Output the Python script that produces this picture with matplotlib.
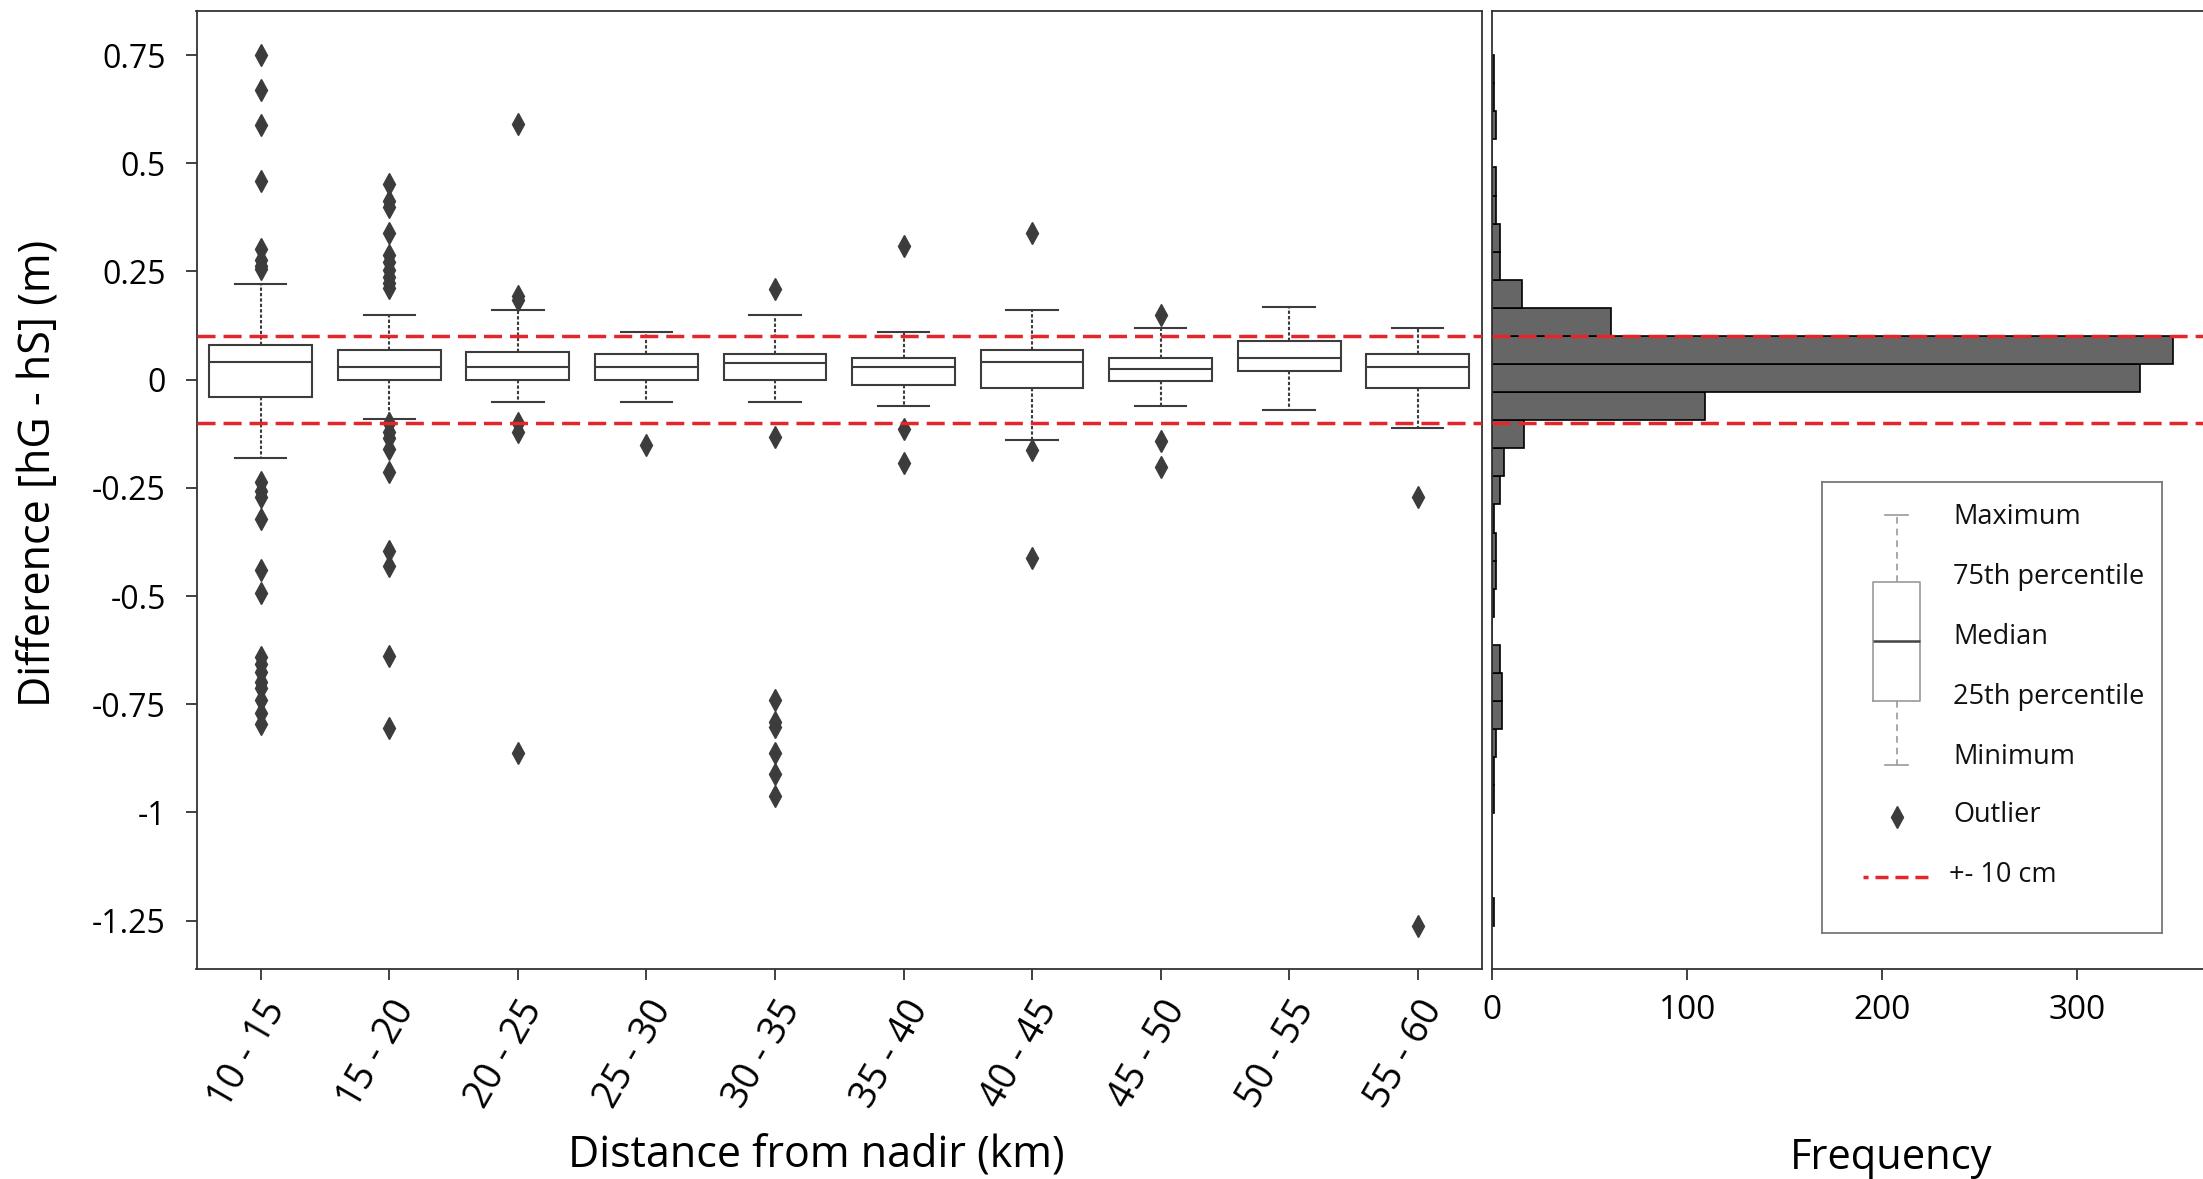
import numpy as np
import matplotlib
matplotlib.use('Agg')
import matplotlib.pyplot as plt

plt.rcParams['font.family'] = ['Open Sans', 'DejaVu Sans']

# box statistics per distance class
cats = ['10 - 15', '15 - 20', '20 - 25', '25 - 30', '30 - 35',
        '35 - 40', '40 - 45', '45 - 50', '50 - 55', '55 - 60']
q1 = [-0.040, 0.000, 0.000, 0.000, 0.000, -0.012, -0.019, -0.004, 0.019, -0.020]
med = [0.040, 0.029, 0.029, 0.030, 0.039, 0.030, 0.040, 0.025, 0.049, 0.030]
q3 = [0.080, 0.069, 0.064, 0.059, 0.059, 0.049, 0.069, 0.049, 0.090, 0.059]
whislo = [-0.182, -0.091, -0.051, -0.051, -0.051, -0.061, -0.140, -0.061, -0.071, -0.111]
whishi = [0.220, 0.150, 0.160, 0.110, 0.150, 0.110, 0.160, 0.120, 0.169, 0.120]
fliers = [
    [0.750, 0.669, 0.588, 0.460, 0.302, 0.277, 0.263, 0.256, -0.237, -0.257, -0.272,
     -0.322, -0.441, -0.493, -0.640, -0.658, -0.676, -0.698, -0.712, -0.741, -0.770, -0.795],
    [0.452, 0.412, 0.400, 0.338, 0.289, 0.273, 0.253, 0.238, 0.223, 0.211, -0.101,
     -0.120, -0.134, -0.160, -0.214, -0.397, -0.431, -0.639, -0.806],
    [0.590, 0.194, 0.184, -0.101, -0.120, -0.863],
    [-0.152],
    [0.210, -0.132, -0.741, -0.792, -0.802, -0.863, -0.912, -0.962],
    [0.309, -0.113, -0.192],
    [0.340, -0.162, -0.412],
    [0.150, -0.142, -0.201],
    [],
    [-0.272, -1.262],
]

# histogram of all differences, 31 bins between min and max
hist_min, hist_max = -1.262, 0.750
hist_counts = [1, 0, 0, 0, 1, 1, 2, 5, 5, 4, 0, 1, 2, 2, 1, 4, 6, 16, 109, 332,
               349, 61, 15, 4, 4, 2, 2, 0, 2, 1, 1]

ytick_vals = [0.75, 0.5, 0.25, 0, -0.25, -0.5, -0.75, -1, -1.25]
ytick_labels = ['0.75', '0.5', '0.25', '0', '-0.25', '-0.5', '-0.75', '-1', '-1.25']
tol = 0.1

W, H = 2203, 1179
fig = plt.figure(figsize=(W / 100, H / 100), dpi=100)

def frac(x0, y0, x1, y1):
    return [x0 / W, 1 - y1 / H, (x1 - x0) / W, (y1 - y0) / H]

ax = fig.add_axes(frac(196.5, 11, 1482, 969))
axh = fig.add_axes(frac(1492.4, 11, 2290, 969), sharey=ax)

dark = '#3c3c3c'
red = '#e3262b'
stats = [dict(q1=q1[i], med=med[i], q3=q3[i], whislo=whislo[i], whishi=whishi[i],
              fliers=fliers[i]) for i in range(len(cats))]
ax.bxp(stats, positions=np.arange(len(cats)), widths=0.8, patch_artist=True,
       boxprops=dict(facecolor='white', edgecolor=dark, linewidth=1.5),
       medianprops=dict(color=dark, linewidth=1.5),
       whiskerprops=dict(color=dark, linewidth=1.5, linestyle=(0, (1.6, 1.0))),
       capprops=dict(color=dark, linewidth=1.5),
       flierprops=dict(marker='d', markerfacecolor=dark, markeredgecolor=dark,
                       markersize=11, linestyle='none'))

for a in (ax, axh):
    for y in (tol, -tol):
        a.axhline(y, color=red, linewidth=2.5, dashes=(5.2, 2.3), zorder=6)
    for s in a.spines.values():
        s.set_color('#333333')
        s.set_linewidth(1.3)

ax.set_xlim(-0.5, len(cats) - 0.5)
ax.set_ylim(-1.362, 0.852)
ax.set_xticks(np.arange(len(cats)))
ax.set_xticklabels(cats, rotation=60, ha='right', rotation_mode='anchor', fontsize=27)
ax.set_yticks(ytick_vals)
ax.set_yticklabels(ytick_labels, fontsize=23)
ax.tick_params(direction='out', length=8, width=1.3, color='#333333')
ax.tick_params(axis='y', pad=14)
ax.tick_params(axis='x', pad=10)
ax.set_ylabel('Difference [hG - hS] (m)', fontsize=31, va='center')
ax.yaxis.set_label_coords(-0.1225, 0.517)
ax.set_xlabel('Distance from nadir (km)', fontsize=31, va='center')
ax.xaxis.set_label_coords(0.482, -0.194)

edges = np.linspace(hist_min, hist_max, len(hist_counts) + 1)
axh.hist(edges[:-1], bins=edges, weights=hist_counts, orientation='horizontal',
         color='#666666', edgecolor='black', linewidth=1.2)
axh.set_xlim(0, 409)
axh.set_xticks([0, 100, 200, 300])
axh.tick_params(axis='x', direction='out', length=8, width=1.3, color='#333333',
                labelsize=24, pad=10)
axh.tick_params(axis='y', left=False, labelleft=False)
axh.set_xlabel('Frequency', fontsize=30, va='center')
axh.xaxis.set_label_coords(0.5, -0.197)

# explanatory key for the box glyph
lx0, ly0, lx1, ly1 = 1821.7, 481.7, 2161.7, 933
lax = fig.add_axes(frac(lx0, ly0, lx1, ly1))
light = '#9a9a9a'
lax.bxp([dict(q1=700.7, med=641, q3=581.7, whislo=765, whishi=515, fliers=[])],
        positions=[1896.7], widths=46.7, showfliers=False,
        boxprops=dict(color=light, linewidth=1.2),
        medianprops=dict(color='#444444', linewidth=1.8),
        whiskerprops=dict(color=light, linewidth=1.2, linestyle=(0, (4, 3))),
        capprops=dict(color=light, linewidth=1.2))
lax.plot([1896.7], [816.7], marker='d', color=dark, markersize=11, linestyle='none')
lax.plot([1863.3, 1930], [877.3, 877.3], color=red, linewidth=2.5,
         linestyle=(2.3, (3.75, 2.0)))
lax.set_xlim(lx0, lx1)
lax.set_ylim(ly1, ly0)
lax.set_xticks([])
lax.set_yticks([])
for s in lax.spines.values():
    s.set_color('#777777')
    s.set_linewidth(1.3)
key_labels = ['Maximum', '75th percentile', 'Median', '25th percentile',
              'Minimum', 'Outlier', '+- 10 cm']
key_y = [516.7, 576.7, 636.7, 696.7, 756.7, 815, 875]
for lab, yy in zip(key_labels, key_y):
    lax.text(1953 if lab != '+- 10 cm' else 1949, yy, lab, fontsize=19.5,
             ha='left', va='center', color='#111111')

fig.savefig('out.png', dpi=100)
